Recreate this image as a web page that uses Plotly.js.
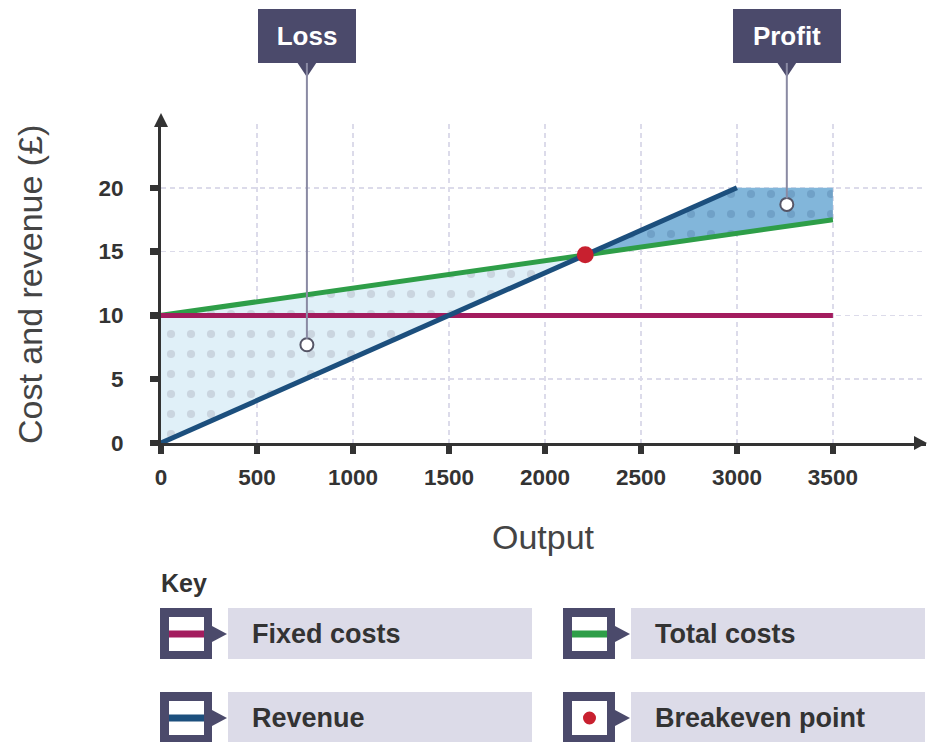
<!DOCTYPE html>
<html>
<head>
<meta charset="utf-8">
<script src="https://cdn.plot.ly/plotly-3.0.1.min.js"></script>
<style>html,body{margin:0;padding:0;background:#fff}#chart{width:927px;height:742px}</style>
</head>
<body>
<div id="chart"></div>
<script>
// ---- data ----
const fixedX = [0, 3500];
const fixedCosts = [10, 10];
const totalX = [0, 3500];
const totalCosts = [10, 17.5];
const revenueX = [0, 3000];
const revenue = [0, 20];
const breakevenX = [2210];
const breakevenY = [14.75];
const calloutLabels = ['Loss', 'Profit'];
const calloutX = [760, 3260];
const calloutY = [7.7, 18.7];
const xTicks = [0, 500, 1000, 1500, 2000, 2500, 3000, 3500];
const yTicks = [0, 5, 10, 15, 20];
const keyTitle = 'Key';
const keyLabels = ['Fixed costs', 'Total costs', 'Revenue', 'Breakeven point'];
const xTitle = 'Output';
const yTitle = 'Cost and revenue (£)';

// ---- layout geometry ----
const L = 161, T = 124, W = 765, H = 319;
const xMax = 3985, yMax = 25;
const px = x => (x - L) / W;
const py = y => (T + H - y) / H;
const dataPy = v => T + H * (1 - v / yMax);
const dataPx = v => L + W * v / xMax;

const FONT = 'Liberation Sans, Arial, sans-serif';
const DARK = '#4b4a6b';
const colFixed = '#a31c5e', colTotal = '#2e9e48', colRev = '#1c4f7d', colBE = '#c8202f';

const traces = [];
// loss area
traces.push({
  x: [totalX[0], breakevenX[0], revenueX[0], totalX[0]],
  y: [totalCosts[0], breakevenY[0], revenue[0], totalCosts[0]],
  mode: 'lines', fill: 'toself', line: {width: 0, color: 'rgba(0,0,0,0)'},
  fillcolor: '#e0f0f8',
  fillpattern: {shape: '.', bgcolor: '#e0f0f8', fgcolor: '#cad5df', size: 20, solidity: 0.13},
  hoverinfo: 'skip'
});
// profit area
traces.push({
  x: [breakevenX[0], revenueX[1], totalX[1], totalX[1], breakevenX[0]],
  y: [breakevenY[0], revenue[1], revenue[1], totalCosts[1], breakevenY[0]],
  mode: 'lines', fill: 'toself', line: {width: 0, color: 'rgba(0,0,0,0)'},
  fillcolor: '#80b4d9',
  fillpattern: {shape: '.', bgcolor: '#82b6da', fgcolor: '#70a1c7', size: 20, solidity: 0.13},
  hoverinfo: 'skip'
});
traces.push({x: totalX, y: totalCosts, mode: 'lines', line: {color: colTotal, width: 5}});
traces.push({x: fixedX, y: fixedCosts, mode: 'lines', line: {color: colFixed, width: 5}});
traces.push({x: revenueX, y: revenue, mode: 'lines', line: {color: colRev, width: 5}});
traces.push({x: breakevenX, y: breakevenY, mode: 'markers', marker: {color: colBE, size: 17}, cliponaxis: false});
traces.push({x: calloutX, y: calloutY, mode: 'markers', cliponaxis: false,
  marker: {color: '#ffffff', size: 13, line: {color: '#555566', width: 2}}});

const shapes = [];
const annotations = [];

// axis arrows
shapes.push({type: 'path', xref: 'paper', yref: 'paper', layer: 'above',
  path: `M ${px(154)},${py(127)} L ${px(161)},${py(113)} L ${px(168)},${py(127)} Z`,
  fillcolor: '#333', line: {width: 0}});
shapes.push({type: 'path', xref: 'paper', yref: 'paper', layer: 'above',
  path: `M ${px(914)},${py(436)} L ${px(927)},${py(443)} L ${px(914)},${py(450)} Z`,
  fillcolor: '#333', line: {width: 0}});

// callouts
const boxCenterY = 36;
const boxWidths = [76, 86];
calloutLabels.forEach((lab, i) => {
  const mpy = dataPy(calloutY[i]);
  annotations.push({
    x: calloutX[i], y: calloutY[i], xref: 'x', yref: 'y',
    text: lab, showarrow: true, arrowhead: 0, arrowwidth: 2, arrowcolor: '#8a8aa3',
    ax: 0, ay: boxCenterY - mpy, standoff: 6,
    bgcolor: DARK, bordercolor: DARK, borderwidth: 0, borderpad: 11,
    width: boxWidths[i], height: 32,
    font: {family: FONT, size: 26, color: '#ffffff', weight: 'bold'}
  });
  const cx = dataPx(calloutX[i]);
  shapes.push({type: 'path', xref: 'paper', yref: 'paper', layer: 'above',
    path: `M ${px(cx - 10)},${py(62)} L ${px(cx + 10)},${py(62)} L ${px(cx)},${py(77)} Z`,
    fillcolor: DARK, line: {width: 0}});
});

// axis titles
annotations.push({xref: 'paper', yref: 'paper', x: px(543), y: py(537), text: xTitle, showarrow: false,
  xanchor: 'center', yanchor: 'middle', font: {family: FONT, size: 34, color: '#444'}});
annotations.push({xref: 'paper', yref: 'paper', x: px(30), y: py(285), text: yTitle, showarrow: false,
  textangle: -90, xanchor: 'center', yanchor: 'middle', font: {family: FONT, size: 34, color: '#444'}});

// key
annotations.push({xref: 'paper', yref: 'paper', x: px(159), y: py(583), text: keyTitle, showarrow: false,
  xanchor: 'left', yanchor: 'middle', font: {family: FONT, size: 25, color: '#333', weight: 'bold'}});
const cols = [160, 563];
const rows = [608, 692];
const rectRight = [532, 925];
const keyKinds = [{c: colFixed}, {c: colTotal}, {c: colRev}, {dot: colBE}];
keyLabels.forEach((lab, i) => {
  const c = i % 2, r = Math.floor(i / 2);
  const x0 = cols[c], y0 = rows[r];
  const x1 = x0 + 52, y1 = y0 + 51;
  shapes.push({type: 'rect', xref: 'paper', yref: 'paper', x0: px(x0), x1: px(x1), y0: py(y1), y1: py(y0),
    fillcolor: DARK, line: {width: 0}});
  shapes.push({type: 'rect', xref: 'paper', yref: 'paper', x0: px(x0 + 9), x1: px(x1 - 8), y0: py(y1 - 8), y1: py(y0 + 9),
    fillcolor: '#ffffff', line: {width: 0}});
  const k = keyKinds[i];
  const cy = y0 + 26;
  if (k.c) {
    shapes.push({type: 'rect', xref: 'paper', yref: 'paper', x0: px(x0 + 9), x1: px(x1 - 8), y0: py(cy + 3.5), y1: py(cy - 3.5),
      fillcolor: k.c, line: {width: 0}});
  } else {
    const cxk = (x0 + 9 + x1 - 8) / 2;
    shapes.push({type: 'circle', xref: 'paper', yref: 'paper', x0: px(cxk - 6.5), x1: px(cxk + 6.5), y0: py(cy + 6.5), y1: py(cy - 6.5),
      fillcolor: k.dot, line: {width: 0}});
  }
  shapes.push({type: 'path', xref: 'paper', yref: 'paper',
    path: `M ${px(x1)},${py(cy - 8)} L ${px(x1 + 15)},${py(cy)} L ${px(x1)},${py(cy + 8)} Z`,
    fillcolor: DARK, line: {width: 0}});
  shapes.push({type: 'rect', xref: 'paper', yref: 'paper', x0: px(x1 + 16), x1: px(rectRight[c]), y0: py(y1), y1: py(y0),
    fillcolor: '#dcdbe8', line: {width: 0}});
  annotations.push({xref: 'paper', yref: 'paper', x: px(x1 + 38), y: py(cy), text: lab, showarrow: false,
    xanchor: 'left', yanchor: 'middle', font: {family: FONT, size: 27, color: '#333', weight: 'bold'}});
});

const axisCommon = {
  showline: true, linecolor: '#333', linewidth: 3,
  ticks: 'outside', ticklen: 8, tickwidth: 6.5, tickcolor: '#333',
  showgrid: true, gridcolor: '#dcdbea', gridwidth: 1.5, griddash: '5px,4px',
  zeroline: false, fixedrange: true,
  tickfont: {family: FONT, size: 22.5, color: '#333', weight: 'bold'}
};

const layout = {
  width: 927, height: 742,
  margin: {l: L, r: 927 - L - W, t: T, b: 742 - T - H, pad: 0},
  paper_bgcolor: '#ffffff', plot_bgcolor: '#ffffff',
  showlegend: false, hovermode: false,
  xaxis: Object.assign({}, axisCommon, {range: [0, xMax], tickmode: 'array', tickvals: xTicks,
    ticktext: xTicks.map(String), ticklabelstandoff: 4}),
  yaxis: Object.assign({}, axisCommon, {range: [0, yMax], tickmode: 'array', tickvals: yTicks,
    ticktext: yTicks.map(String), ticklabelstandoff: 22}),
  shapes: shapes,
  annotations: annotations
};

Plotly.newPlot('chart', traces, layout, {staticPlot: true, displayModeBar: false});
</script>
</body>
</html>
